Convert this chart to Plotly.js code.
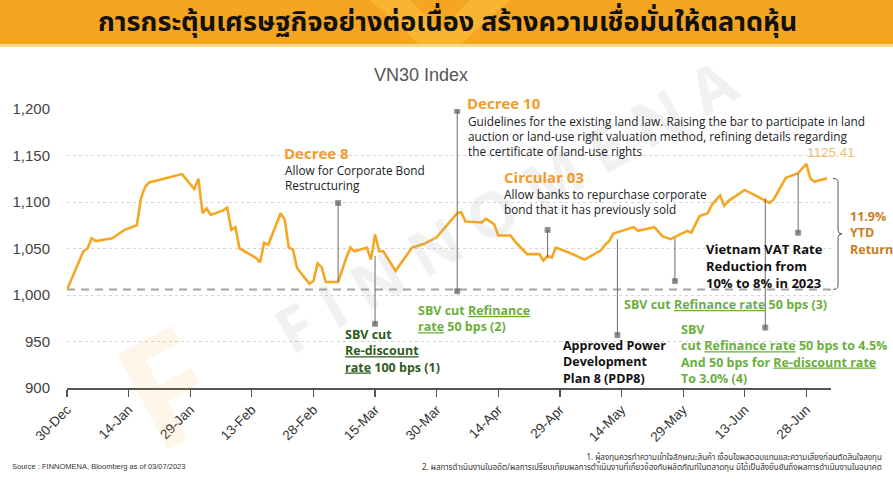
<!DOCTYPE html>
<html>
<head>
<meta charset="utf-8">
<script src="https://cdn.plot.ly/plotly-3.0.1.min.js"></script>
<style>
html,body{margin:0;padding:0;background:#fff;}
#chart{width:893px;height:500px;}
</style>
</head>
<body>
<div id="chart"></div>
<script>
// ---- Data ----
const dates = [
'2022-12-30','2023-01-03','2023-01-04','2023-01-05','2023-01-06','2023-01-10','2023-01-11','2023-01-13',
'2023-01-16','2023-01-17','2023-01-18','2023-01-19','2023-01-27','2023-01-30','2023-01-31','2023-02-01',
'2023-02-02','2023-02-03','2023-02-06','2023-02-07','2023-02-08','2023-02-09','2023-02-10','2023-02-13',
'2023-02-14','2023-02-15','2023-02-16','2023-02-17','2023-02-20','2023-02-21','2023-02-22','2023-02-23',
'2023-02-24','2023-02-27','2023-02-28','2023-03-01','2023-03-02','2023-03-03','2023-03-06','2023-03-08',
'2023-03-09','2023-03-10','2023-03-13','2023-03-14','2023-03-15','2023-03-16','2023-03-17','2023-03-20',
'2023-03-22','2023-03-24','2023-03-27','2023-03-30','2023-04-04','2023-04-05','2023-04-06','2023-04-10',
'2023-04-11','2023-04-13','2023-04-14','2023-04-17','2023-04-18','2023-04-20','2023-04-21','2023-04-24',
'2023-04-25','2023-04-26','2023-04-27','2023-04-28','2023-05-01','2023-05-05','2023-05-09','2023-05-10',
'2023-05-11','2023-05-12','2023-05-15','2023-05-17','2023-05-18','2023-05-22','2023-05-24','2023-05-26',
'2023-05-30','2023-05-31','2023-06-02','2023-06-04','2023-06-05','2023-06-07','2023-06-08','2023-06-09',
'2023-06-13','2023-06-15','2023-06-16','2023-06-19','2023-06-20','2023-06-23','2023-06-26','2023-06-28',
'2023-06-29','2023-06-30','2023-07-03'];
const vn30 = [
1006,1047,1050,1061,1058,1061,1064,1070,
1075,1104,1116,1121,1130,1114,1125,1088,
1093,1086,1091,1094,1070,1073,1050,1043,
1040,1035,1056,1054,1088,1081,1051,1049,
1029,1012,1015,1034,1030,1014,1014,1040,
1051,1047,1051,1038,1065,1047,1047,1026,
1038,1051,1055,1062,1088,1089,1079,1078,
1082,1076,1064,1064,1058,1048,1044,1044,
1037,1042,1040,1051,1046,1038,1048,1054,
1058,1066,1070,1073,1069,1073,1063,1060,
1069,1067,1085,1088,1097,1107,1096,1101,
1113,1108,1106,1099,1102.5,1126,1131,1141,
1125,1122,1125.41];

const yTickVals = [900, 950, 1000, 1050, 1100, 1150, 1200];
const xTickStart = '2022-12-30';
const xTickDays = 15;

// Event leader lines: date, value at label end, value at series end
const eventNames = ['Decree 8','SBV cut (1)','Decree 10','Circular 03','PDP8','SBV cut (3)','SBV cut (4)','VAT cut'];
const eventDates = ['2023-03-06','2023-03-15','2023-04-04','2023-04-26','2023-05-13','2023-05-27','2023-06-18','2023-06-26'];
const eventLabelEnd = [1099, 969, 1198, 1070, 957, 1015, 965, 1067];
const eventSeriesEnd = [1014, 1042, 1004, 1040, 1060, 1061, 1104, 1131];
const eventBothDots = [false,false,true,false,false,false,false,false];

const lastValueLabel = '1125.41';
const ytdReturn = '11.9%';

// ---- Geometry helpers (pixel -> paper) ----
const L = 67, R = 831, T = 109, B = 388;
const PX = x => (x - L) / (R - L);
const PY = y => (B - y) / (B - T);

const ORANGE = '#F5A623';
const HEAD = '#F39A2B';
const DKGREEN = '#2E5C1C';
const LTGREEN = '#6AAF3D';
const FONT = 'Open Sans, Noto Sans, sans-serif';
const THAI = 'Noto Sans Thai, Noto Sans Thai Looped, Loma, Garuda, Noto Sans, sans-serif';

const traces = [];
traces.push({
  x: dates, y: vn30, type: 'scatter', mode: 'lines',
  line: {color: ORANGE, width: 2.6, shape: 'linear'},
  hoverinfo: 'skip', showlegend: false
});
eventDates.forEach((d, i) => {
  traces.push({
    x: [d, d], y: [eventLabelEnd[i], eventSeriesEnd[i]],
    type: 'scatter', mode: 'lines+markers',
    line: {color: '#6b6b6b', width: 1},
    marker: {symbol: 'square', size: eventBothDots[i] ? [5, 5] : [5, 0], color: '#555'},
    hoverinfo: 'skip', showlegend: false, name: eventNames[i]
  });
});

const ann = [];
function txt(x, y, text, opts) {
  ann.push(Object.assign({
    xref: 'paper', yref: 'paper', x: PX(x), y: PY(y), text: text,
    showarrow: false, xanchor: 'left', yanchor: 'middle', align: 'left',
    font: {family: FONT, size: 12, color: '#222'}
  }, opts || {}));
}

// banner title
txt(447, 22, '<b>การกระตุ้นเศรษฐกิจอย่างต่อเนื่อง สร้างความเชื่อมั่นให้ตลาดหุ้น</b>',
  {xanchor: 'center', align: 'center', font: {family: THAI, size: 27, color: '#111'}});

// watermark
txt(505, 205, '<b>F I N N O M E N A</b>',
  {xanchor: 'center', align: 'center', textangle: -30,
   font: {family: FONT, size: 62, color: 'rgba(170,170,170,0.16)'}});
txt(165, 385, '<b>F</b>',
  {xanchor: 'center', align: 'center', textangle: -28,
   font: {family: FONT, size: 150, color: 'rgba(247,166,35,0.10)'}});

// event annotations
const BODY = {family: FONT, size: 11.8, color: '#222'};
txt(282, 153, '<b>Decree 8</b>', {font: {family: FONT, size: 15, color: HEAD}});
txt(283, 170, 'Allow for Corporate Bond', {font: BODY});
txt(283, 185, 'Restructuring', {font: BODY});

txt(465, 103, '<b>Decree 10</b>', {font: {family: FONT, size: 15, color: HEAD}});
txt(466, 120.5, 'Guidelines for the existing land law. Raising the bar to participate in land', {font: BODY});
txt(466, 135.5, 'auction or land-use right valuation method, refining details regarding', {font: BODY});
txt(466, 151, 'the certificate of land-use rights', {font: BODY});

txt(502, 177, '<b>Circular 03</b>', {font: {family: FONT, size: 15, color: HEAD}});
txt(502, 194, 'Allow banks to repurchase corporate', {font: BODY});
txt(502, 209, 'bond that it has previously sold', {font: BODY});

txt(343, 351, '<b>SBV cut<br><u>Re-discount</u><br><u>rate</u> 100 bps (1)</b>', {font: {family: FONT, size: 12.5, color: DKGREEN}});
txt(416, 318, '<b>SBV cut <u>Refinance</u><br><u>rate</u> 50 bps (2)</b>', {font: {family: FONT, size: 12.5, color: LTGREEN}});
txt(561, 362, '<b>Approved Power<br>Development<br>Plan 8 (PDP8)</b>', {font: {family: FONT, size: 12.5, color: '#111'}});
txt(622, 304, '<b>SBV cut <u>Refinance rate</u> 50 bps (3)</b>', {font: {family: FONT, size: 12.5, color: LTGREEN}});
txt(679, 354, '<b>SBV<br>cut <u>Refinance rate</u> 50 bps to 4.5%<br>And 50 bps for <u>Re-discount rate</u><br>To 3.0% (4)</b>',
  {font: {family: FONT, size: 12.5, color: LTGREEN}});
txt(704, 266, '<b>Vietnam VAT Rate<br>Reduction from<br>10% to 8% in 2023</b>', {font: {family: FONT, size: 13, color: '#111'}});

txt(848, 233, '<b>' + ytdReturn + '<br>YTD<br>Return</b>', {font: {family: FONT, size: 12.5, color: '#C97D1E'}});
txt(831, 152, lastValueLabel, {xanchor: 'center', align: 'center', font: {family: 'Liberation Sans, Arial, sans-serif', size: 13.5, color: '#F2BD6B'}});

// chart title
txt(421, 75, 'VN30 Index', {xanchor: 'center', align: 'center', font: {family: 'Liberation Sans, Arial, sans-serif', size: 18, color: '#555'}});

// footer
txt(10, 467, 'Source : FINNOMENA, Bloomberg as of 03/07/2023', {font: {family: 'Liberation Sans Narrow, Liberation Sans, sans-serif', size: 7.5, color: '#333'}});
txt(884, 462.5, '1. ผู้ลงทุนควรทำความเข้าใจลักษณะสินค้า เงื่อนไขผลตอบแทนและความเสี่ยงก่อนตัดสินใจลงทุน<br>2. ผลการดำเนินงานในอดีต/ผลการเปรียบเทียบผลการดำเนินงานที่เกี่ยวข้องกับผลิตภัณฑ์ในตลาดทุน มิได้เป็นสิ่งยืนยันถึงผลการดำเนินงานในอนาคต',
  {xanchor: 'right', align: 'right', font: {family: THAI, size: 8, color: '#333'}});

// shapes
const braceTop = vn30[vn30.length - 1], braceBot = vn30[0], braceMid = (braceTop + braceBot) / 2, bd = 4;
const bx0 = PX(833), bx1 = PX(838), bx2 = PX(842);
const bracePath = `M ${bx0},${braceTop} Q ${bx1},${braceTop} ${bx1},${braceTop - bd} L ${bx1},${braceMid + bd} Q ${bx1},${braceMid} ${bx2},${braceMid} Q ${bx1},${braceMid} ${bx1},${braceMid - bd} L ${bx1},${braceBot + bd} Q ${bx1},${braceBot} ${bx0},${braceBot}`;

const shapes = [
  {type: 'rect', xref: 'paper', yref: 'paper', x0: PX(0), x1: PX(893), y0: PY(45), y1: PY(0),
   fillcolor: '#F6A521', line: {width: 0}, layer: 'below'},
  {type: 'path', xref: 'paper', yref: 'paper', layer: 'below',
   path: `M ${PX(370)},${PY(0)} L ${PX(410)},${PY(0)} L ${PX(440)},${PY(30)} L ${PX(470)},${PY(0)} L ${PX(510)},${PY(0)} L ${PX(460)},${PY(45)} L ${PX(420)},${PY(45)} Z`,
   fillcolor: 'rgba(255,210,80,0.35)', line: {width: 0}},
  {type: 'rect', xref: 'paper', yref: 'paper', x0: PX(0), x1: PX(893), y0: PY(47), y1: PY(44),
   fillcolor: '#FCD58E', line: {width: 0}, layer: 'below'},
  {type: 'line', xref: 'paper', yref: 'y', x0: 0, x1: 1, y0: vn30[0], y1: vn30[0],
   line: {color: '#a3a3a3', width: 2, dash: '8px,6px'}, layer: 'below'},
  {type: 'path', xref: 'paper', yref: 'y', path: bracePath, line: {color: '#555', width: 1}}
];

const layout = {
  width: 893, height: 500,
  margin: {l: L, r: 893 - R, t: T, b: 500 - B},
  paper_bgcolor: '#fff', plot_bgcolor: '#fff',
  showlegend: false, hovermode: false,
  xaxis: {
    type: 'date', range: ['2022-12-30', '2023-07-04'],
    tick0: xTickStart, dtick: xTickDays * 86400000, tickformat: '%-d-%b',
    tickangle: -45, ticks: 'outside', ticklen: 7, tickcolor: '#555', tickwidth: 1.2,
    showline: true, linecolor: '#555', linewidth: 1.5, showgrid: false, zeroline: false,
    tickfont: {family: 'Liberation Sans, Arial, sans-serif', size: 13.5, color: '#333'}
  },
  yaxis: {
    range: [900, 1200], tickvals: yTickVals, tickformat: ',d',
    showline: false, zeroline: false, ticks: '', ticklabelstandoff: 16,
    showgrid: true, gridcolor: '#d6d6d6', gridwidth: 1, griddash: '3px,3px',
    tickfont: {family: 'Liberation Sans, Arial, sans-serif', size: 15, color: '#444'}
  },
  annotations: ann,
  shapes: shapes
};

Plotly.newPlot('chart', traces, layout, {displayModeBar: false, staticPlot: true});
</script>
</body>
</html>
